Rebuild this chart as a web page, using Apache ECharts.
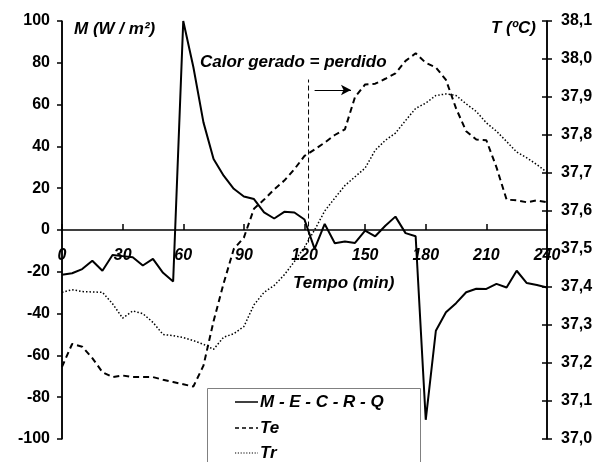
<!DOCTYPE html>
<html>
<head>
<meta charset="utf-8">
<script src="https://cdn.jsdelivr.net/npm/echarts@6/dist/echarts.min.js"></script>
<style>html,body{margin:0;padding:0;background:#fff}#c{width:609px;height:462px}</style>
</head>
<body>
<div id="c"></div>
<script>
// Time (min)
const times = [0,5,10,15,20,25,30,35,40,45,50,55,60,65,70,75,80,85,90,95,100,105,110,115,120,125,130,135,140,145,150,155,160,165,170,175,180,185,190,195,200,205,210,215,220,225,230,235,240];
// M - E - C - R - Q (W/m2), left axis
const mecrq = [-21.4,-20.7,-18.7,-14.7,-19.5,-12,-12.5,-13,-17,-13.8,-20.5,-24.6,100,78,51.5,34,26,19.7,16,14.8,8.4,5.5,8.7,8.4,5,-9,2.9,-6.3,-5.5,-6.2,-0.3,-3,2,6.4,-1.5,-3,-90.8,-48.2,-39.4,-35,-29.8,-28.1,-28.2,-25.8,-27.5,-19.5,-25.4,-26.3,-27.5];
// Te (°C), right axis
const te = [37.19,37.25,37.243,37.213,37.176,37.163,37.167,37.163,37.163,37.163,37.156,37.15,37.144,37.138,37.193,37.31,37.41,37.5,37.53,37.606,37.63,37.657,37.68,37.71,37.745,37.762,37.78,37.8,37.815,37.9,37.933,37.935,37.948,37.962,37.995,38.015,37.99,37.978,37.945,37.87,37.81,37.788,37.786,37.715,37.63,37.628,37.623,37.628,37.623];
// Tr (°C), right axis
const tr = [37.386,37.393,37.388,37.387,37.386,37.356,37.318,37.337,37.33,37.307,37.275,37.272,37.267,37.259,37.249,37.236,37.268,37.277,37.296,37.353,37.386,37.404,37.432,37.467,37.505,37.55,37.6,37.634,37.667,37.69,37.713,37.76,37.786,37.805,37.838,37.87,37.884,37.904,37.908,37.904,37.882,37.862,37.832,37.81,37.783,37.755,37.74,37.722,37.702];
// Annotation: divider line and arrow (time, M)
const dividerTime = 122;
const dividerRange = [-6, 72];
const arrowFrom = [125, 67];
const arrowTo = [143, 67];
// Axis ranges and right-axis tick values
const xRange = [0, 240, 30];
const mRange = [-100, 100, 20];
const tRange = [37.0, 38.1, 0.1];
const tTicks = [37.0, 37.1, 37.2, 37.3, 37.4, 37.5, 37.6, 37.7, 37.8, 37.9, 38.0, 38.1];
const seriesNames = ['M - E - C - R - Q', 'Te', 'Tr'];

const FONT = "'Liberation Sans', Arial, sans-serif";
const TFONT = "italic bold 17px 'Liberation Sans', Arial";
const pair = (a) => times.map((t, i) => [t, a[i]]);

const G = {left: 62, right: 62, top: 21, bottom: 23};
const W = 609, H = 462;
const gx0 = G.left, gx1 = W - G.right, gy0 = G.top, gy1 = H - G.bottom;

const chart = echarts.init(document.getElementById('c'), null, {renderer: 'canvas'});
const lblStyle = {color: '#000', fontFamily: FONT, fontWeight: 'bold', fontSize: 16};

// hand-drawn legend (box + samples + names)
const legendX = 235, legendY = [402, 428, 453];
const legendDash = [null, [4, 3], [1.2, 1.6]];
const legendGraphics = [
  {type: 'rect', left: 207, top: 388, shape: {width: 213, height: 100}, style: {fill: '#fff', stroke: '#808080', lineWidth: 1}, z: 5}
];
seriesNames.forEach((n, i) => {
  legendGraphics.push({type: 'line', shape: {x1: legendX, y1: legendY[i], x2: legendX + 23, y2: legendY[i]},
    style: {stroke: '#000', lineWidth: i === 2 ? 1.2 : 1.5, lineDash: legendDash[i]}, z: 6});
  legendGraphics.push({type: 'text', x: legendX + 25, y: legendY[i], style: {text: n, font: "italic bold 17px 'Liberation Sans', Arial", fill: '#000', textVerticalAlign: 'middle'}, z: 6});
});

chart.setOption({
  animation: false,
  backgroundColor: '#fff',
  grid: {left: G.left, right: G.right, top: G.top, bottom: G.bottom, containLabel: false, outerBoundsMode: 'none'},
  xAxis: {
    type: 'value', min: xRange[0], max: xRange[1], interval: xRange[2],
    offset: -(gy1 - gy0) / 2,
    axisLine: {show: true, onZero: false, lineStyle: {color: '#000', width: 1.5}},
    axisTick: {show: true, inside: true, length: 6, lineStyle: {color: '#000', width: 1.5}},
    axisLabel: Object.assign({margin: 18, fontStyle: 'italic'}, lblStyle),
    splitLine: {show: false}
  },
  yAxis: [
    {
      type: 'value', min: mRange[0], max: mRange[1], interval: mRange[2], position: 'left',
      axisLine: {show: true, onZero: false, lineStyle: {color: '#000', width: 1.5}},
      axisTick: {show: true, inside: false, length: 5, lineStyle: {color: '#000', width: 1.5}},
      axisLabel: Object.assign({margin: 12}, lblStyle),
      splitLine: {show: false}
    },
    {
      type: 'value', min: tRange[0], max: tRange[1], interval: tRange[2], position: 'right',
      axisLine: {show: true, onZero: false, lineStyle: {color: '#000', width: 1.5}},
      axisTick: {show: true, inside: false, length: 5, lineStyle: {color: '#000', width: 1.5}},
      axisLabel: Object.assign({margin: 14, formatter: v => v.toFixed(1).replace('.', ',')}, lblStyle),
      splitLine: {show: false}
    }
  ],
  graphic: legendGraphics.concat([
    {type: 'text', left: 74, top: 21, style: {text: 'M (W / m²)', font: TFONT, fill: '#000'}},
    {type: 'text', left: 491, top: 20, style: {text: 'T (ºC)', font: TFONT, fill: '#000'}},
    {type: 'text', left: 200, top: 54, style: {text: 'Calor gerado = perdido', font: TFONT, fill: '#000'}},
    {type: 'text', left: 293, top: 275, style: {text: 'Tempo (min)', font: TFONT, fill: '#000'}}
  ]),
  series: [
    {
      name: seriesNames[0], type: 'line', yAxisIndex: 0, data: pair(mecrq),
      symbol: 'none', lineStyle: {color: '#000', width: 2}, itemStyle: {color: '#000'}, z: 3
    },
    {
      name: seriesNames[1], type: 'line', yAxisIndex: 1, data: pair(te),
      symbol: 'none', lineStyle: {color: '#000', width: 2, type: [6, 4]}, itemStyle: {color: '#000'}, z: 3
    },
    {
      name: seriesNames[2], type: 'line', yAxisIndex: 1, data: pair(tr),
      symbol: 'none', lineStyle: {color: '#000', width: 1.5, type: [1.5, 2]}, itemStyle: {color: '#000'}, z: 3
    },
    {
      name: 'divider', type: 'line', yAxisIndex: 0,
      data: [[dividerTime, dividerRange[0]], [dividerTime, dividerRange[1]]],
      symbol: 'none', lineStyle: {color: '#000', width: 1, type: [5, 3]}, z: 3,
      markLine: {
        silent: true, symbol: ['none', 'arrow'], symbolSize: [8, 10],
        label: {show: false},
        lineStyle: {color: '#000', width: 1.2, type: 'solid'},
        data: [[{coord: arrowFrom}, {coord: arrowTo}]]
      }
    }
  ]
});

// vertical axis lines and inner half of the right-axis ticks (positions from the library's scale)
const extra = [
  {type: 'line', shape: {x1: gx0, y1: gy0, x2: gx0, y2: gy1}, style: {stroke: '#000', lineWidth: 1.5}, z: 8},
  {type: 'line', shape: {x1: gx1, y1: gy0, x2: gx1, y2: gy1}, style: {stroke: '#000', lineWidth: 1.5}, z: 8}
];
tTicks.forEach(v => {
  const py = chart.convertToPixel({yAxisIndex: 1}, v);
  extra.push({type: 'line', shape: {x1: gx1 - 5, y1: py, x2: gx1, y2: py}, style: {stroke: '#000', lineWidth: 1.5}, z: 8});
});
chart.setOption({graphic: legendGraphics.concat([
  {type: 'text', left: 74, top: 21, style: {text: 'M (W / m²)', font: TFONT, fill: '#000'}},
  {type: 'text', left: 491, top: 20, style: {text: 'T (ºC)', font: TFONT, fill: '#000'}},
  {type: 'text', left: 200, top: 54, style: {text: 'Calor gerado = perdido', font: TFONT, fill: '#000'}},
  {type: 'text', left: 293, top: 275, style: {text: 'Tempo (min)', font: TFONT, fill: '#000'}}
]).concat(extra)});
</script>
</body>
</html>
